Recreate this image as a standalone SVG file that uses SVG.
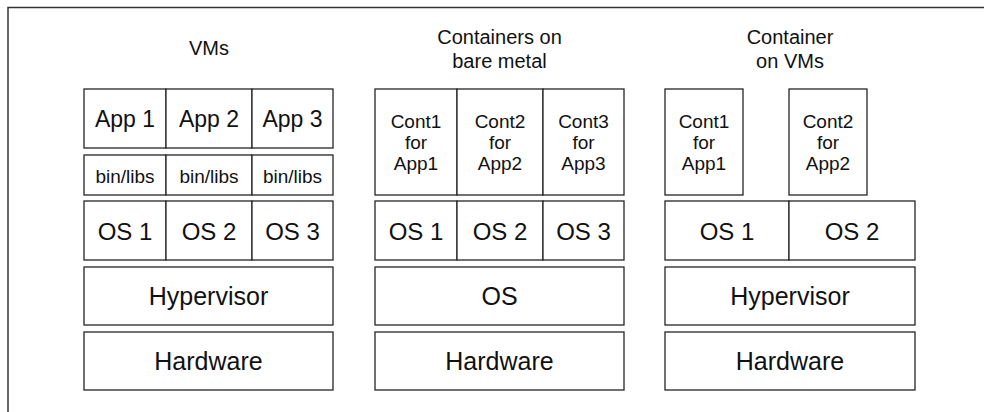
<svg xmlns="http://www.w3.org/2000/svg" width="984" height="412" viewBox="0 0 984 412">
  <style>
    .box { fill: #ffffff; stroke: #262626; stroke-width: 1.3; }
    .frame { fill: none; stroke: #333333; stroke-width: 1.5; }
    text { font-family: "Liberation Sans", Arial, sans-serif; fill: #111111; text-anchor: middle; }
    .app { font-size: 23px; }
    .os { font-size: 24px; }
    .base { font-size: 25px; }
    .small { font-size: 19px; }
    .title { font-size: 20px; }
  </style>
  <rect width="984" height="412" fill="#ffffff"/>
  <rect class="frame" x="8" y="7.5" width="1000" height="430"/>

  <!-- Stack 1: virtual machines -->
  <g id="vms">
    <text class="title" x="209" y="55">VMs</text>
    <g id="vm-apps">
      <rect class="box" x="84" y="89" width="82" height="59"/>
      <rect class="box" x="166" y="89" width="86" height="59"/>
      <rect class="box" x="252" y="89" width="81" height="59"/>
      <text class="app" x="125" y="127">App 1</text>
      <text class="app" x="209" y="127">App 2</text>
      <text class="app" x="292.5" y="127">App 3</text>
    </g>
    <g id="vm-libs">
      <rect class="box" x="84" y="155" width="82" height="40"/>
      <rect class="box" x="166" y="155" width="86" height="40"/>
      <rect class="box" x="252" y="155" width="81" height="40"/>
      <text class="small" x="125" y="183">bin/libs</text>
      <text class="small" x="209" y="183">bin/libs</text>
      <text class="small" x="292.5" y="183">bin/libs</text>
    </g>
    <g id="vm-guests">
      <rect class="box" x="84" y="201" width="82" height="59"/>
      <rect class="box" x="166" y="201" width="86" height="59"/>
      <rect class="box" x="252" y="201" width="81" height="59"/>
      <text class="os" x="125" y="239.5">OS 1</text>
      <text class="os" x="209" y="239.5">OS 2</text>
      <text class="os" x="292.5" y="239.5">OS 3</text>
    </g>
    <g id="vm-hypervisor">
      <rect class="box" x="84" y="267" width="249" height="58"/>
      <text class="base" x="208.5" y="304.5">Hypervisor</text>
    </g>
    <g id="vm-hardware">
      <rect class="box" x="84" y="332" width="249" height="58"/>
      <text class="base" x="208.5" y="370">Hardware</text>
    </g>
  </g>

  <!-- Stack 2: containers on bare metal -->
  <g id="bare-metal">
    <text class="title" x="499.5" y="44">Containers on</text>
    <text class="title" x="499.5" y="68">bare metal</text>
    <g id="bm-containers">
      <rect class="box" x="375" y="89" width="82" height="106"/>
      <rect class="box" x="457" y="89" width="86" height="106"/>
      <rect class="box" x="543" y="89" width="81" height="106"/>
      <text class="small" x="416" y="128">Cont1</text>
      <text class="small" x="416" y="149">for</text>
      <text class="small" x="416" y="170">App1</text>
      <text class="small" x="500" y="128">Cont2</text>
      <text class="small" x="500" y="149">for</text>
      <text class="small" x="500" y="170">App2</text>
      <text class="small" x="583.5" y="128">Cont3</text>
      <text class="small" x="583.5" y="149">for</text>
      <text class="small" x="583.5" y="170">App3</text>
    </g>
    <g id="bm-guests">
      <rect class="box" x="375" y="201" width="82" height="59"/>
      <rect class="box" x="457" y="201" width="86" height="59"/>
      <rect class="box" x="543" y="201" width="81" height="59"/>
      <text class="os" x="416" y="239.5">OS 1</text>
      <text class="os" x="500" y="239.5">OS 2</text>
      <text class="os" x="583.5" y="239.5">OS 3</text>
    </g>
    <g id="bm-os">
      <rect class="box" x="375" y="267" width="249" height="58"/>
      <text class="base" x="499.5" y="304.5">OS</text>
    </g>
    <g id="bm-hardware">
      <rect class="box" x="375" y="332" width="249" height="58"/>
      <text class="base" x="499.5" y="370">Hardware</text>
    </g>
  </g>

  <!-- Stack 3: containers on virtual machines -->
  <g id="containers-on-vms">
    <text class="title" x="790" y="44">Container</text>
    <text class="title" x="790" y="68">on VMs</text>
    <g id="cv-cont1">
      <rect class="box" x="665" y="89" width="78" height="106"/>
      <text class="small" x="704" y="128">Cont1</text>
      <text class="small" x="704" y="149">for</text>
      <text class="small" x="704" y="170">App1</text>
    </g>
    <g id="cv-cont2">
      <rect class="box" x="789" y="89" width="78" height="106"/>
      <text class="small" x="828" y="128">Cont2</text>
      <text class="small" x="828" y="149">for</text>
      <text class="small" x="828" y="170">App2</text>
    </g>
    <g id="cv-guests">
      <rect class="box" x="665" y="201" width="124" height="59"/>
      <rect class="box" x="789" y="201" width="126" height="59"/>
      <text class="os" x="727" y="239.5">OS 1</text>
      <text class="os" x="852" y="239.5">OS 2</text>
    </g>
    <g id="cv-hypervisor">
      <rect class="box" x="665" y="267" width="250" height="58"/>
      <text class="base" x="790" y="304.5">Hypervisor</text>
    </g>
    <g id="cv-hardware">
      <rect class="box" x="665" y="332" width="250" height="58"/>
      <text class="base" x="790" y="370">Hardware</text>
    </g>
  </g>

  <!-- no connectors in this figure -->
  <g id="connectors"/>
</svg>
